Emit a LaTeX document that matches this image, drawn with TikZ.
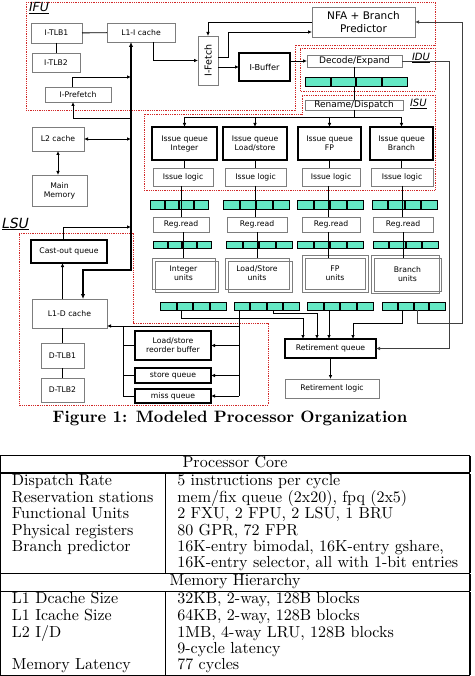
\documentclass[tikz,border=0pt]{standalone}
\usepackage{fontspec}
\newfontfamily\dv{DejaVu Sans}
\newfontfamily\cmten{lmroman10-regular.otf}[BoldFont=lmroman10-bold.otf]
\usetikzlibrary{calc,arrows.meta}
\definecolor{cellc}{RGB}{100,232,196}
\definecolor{redd}{RGB}{210,40,40}
\definecolor{gbord}{RGB}{125,125,125}
\newcommand\bx[7]{\node[#6, minimum width={(#4-#2)*1pt}, minimum height={(#5-#3)*1pt}] (#1) at ({(#2+#4)/2},{(#3+#5)/2}) {#7};}
\begin{document}
\begin{tikzpicture}[x=1pt,y=-1pt,
  every node/.style={inner sep=0pt, outer sep=0pt, font=\dv\fontsize{7.7}{9}\selectfont, align=center},
  gbox/.style={draw=gbord, line width=0.9pt},
  kbox/.style={draw=black, line width=1.6pt},
  ln/.style={draw=black, line width=0.9pt},
  arr/.style={ln, -{Latex[length=4pt,width=3.6pt]}},
  darr/.style={ln, {Latex[length=4pt,width=3.6pt]}-{Latex[length=4pt,width=3.6pt]}},
  bus/.style={draw=black, line width=1.8pt, {Latex[length=5pt,width=4.5pt]}-{Latex[length=5pt,width=4.5pt]}},
  region/.style={draw=redd, line width=0.8pt, densely dotted},
  regs/.style={draw=black, line width=1pt, fill=cellc,
    path picture={\foreach \k in {1,2,3}{\draw[line width=2pt] ($(path picture bounding box.south west)!\k/4!(path picture bounding box.south east)$) -- ($(path picture bounding box.north west)!\k/4!(path picture bounding box.north east)$);}}},
  lab/.style={font=\dv\itshape\fontsize{#1}{#1}\selectfont},
  f9/.style={font=\dv\fontsize{9}{10}\selectfont},
  f105/.style={font=\dv\fontsize{10.5}{12.5}\selectfont}
]
\useasboundingbox (0,0) rectangle (474,676);
\fill[white] (0,0) rectangle (474,676);

% regions
\draw[region] (26,2) -- (435,2) -- (435,45) -- (295,45) -- (295,110) -- (26,110) -- cycle;
\draw[region] (300,48) -- (435,48) -- (435,91) -- (300,91) -- cycle;
\draw[region] (302,95) -- (435,95) -- (435,190) -- (144,190) -- (144,114) -- (302,114) -- cycle;
\draw[region] (19,233) -- (133,233) -- (133,323) -- (268,323) -- (268,405) -- (19,405) -- cycle;
\node[lab=12.5, anchor=west] (lifu) at (29,8) {\underline{IFU}};
\node[lab=10, anchor=west] (lidu) at (412,58) {\underline{IDU}};
\node[lab=10, anchor=west] (lisu) at (410,104) {\underline{ISU}};
\node[lab=14, anchor=west] (llsu) at (2,224) {\underline{LSU}};

% IFU
\bx{itlb1}{31}{23}{82}{43}{gbox}{I-TLB1}
\bx{itlb2}{32}{53}{80}{72}{gbox}{I-TLB2}
\bx{l1i}{107}{23}{175}{42}{gbox}{L1-I cache}
\bx{ipre}{45}{87}{111}{102}{gbox}{I-Prefetch}
\bx{ifetch}{198}{36}{218}{85}{gbox,font=\dv\fontsize{9.5}{10}\selectfont}{\rotatebox{90}{I-Fetch}}
\bx{ibuf}{239}{53}{290}{81}{kbox,font=\dv\fontsize{8.2}{9}\selectfont}{I-Buffer}
\bx{nfa}{312}{7}{415}{37}{gbox,f105}{NFA + Branch\\Predictor}
% IDU
\bx{dec}{307}{55}{402}{67}{gbox,f9}{Decode/Expand}
\bx{decregs}{305}{78}{407}{87}{regs}{}
% ISU
\bx{ren}{305}{100}{403}{110}{gbox,f9}{Rename/Dispatch}
\bx{iq1}{152}{127}{217}{160}{kbox}{Issue queue\\Integer}
\bx{iq2}{223}{127}{287}{160}{kbox}{Issue queue\\Load/store}
\bx{iq3}{298}{127}{361}{160}{kbox}{Issue queue\\FP}
\bx{iq4}{370}{127}{433}{160}{kbox}{Issue queue\\Branch}
\bx{il1}{153}{168}{213}{186}{gbox}{Issue logic}
\bx{il2}{225}{168}{286}{186}{gbox}{Issue logic}
\bx{il3}{302}{168}{360}{186}{gbox}{Issue logic}
\bx{il4}{371}{168}{433}{186}{gbox}{Issue logic}
\bx{ra1}{150}{201}{208}{209}{regs}{}
\bx{ra2}{223}{201}{289}{209}{regs}{}
\bx{ra3}{297}{201}{363}{209}{regs}{}
\bx{ra4}{372}{201}{437}{209}{regs}{}
\bx{rr1}{153}{217}{209}{232}{gbox}{Reg.read}
\bx{rr2}{227}{217}{287}{232}{gbox}{Reg.read}
\bx{rr3}{302}{217}{360}{232}{gbox}{Reg.read}
\bx{rr4}{373}{217}{433}{232}{gbox}{Reg.read}
\bx{rb1}{153}{241}{211}{248}{regs}{}
\bx{rb2}{226}{241}{292}{248}{regs}{}
\bx{rb3}{297}{241}{363}{248}{regs}{}
\bx{rb4}{373}{241}{438}{248}{regs}{}
\bx{ub1}{155}{261}{218}{292}{gbox}{}
\bx{u1}{152}{258}{215}{289}{gbox}{Integer\\units}
\bx{ub2}{228}{261}{292}{292}{gbox}{}
\bx{u2}{225}{258}{289}{289}{gbox}{Load/Store\\units}
\bx{ub3}{302}{255}{368}{292}{gbox}{}
\bx{u3}{305}{258}{365}{289}{gbox}{FP\\units}
\bx{ub4}{371}{255}{439}{293}{gbox}{}
\bx{u4}{374}{258}{441}{291}{gbox}{Branch\\units}
\bx{rc1}{160}{302}{226}{310}{regs}{}
\bx{rc2}{234}{302}{299}{310}{regs}{}
\bx{rc3}{307}{302}{373}{310}{regs}{}
\bx{rc4}{382}{302}{445}{310}{regs}{}
% memory side
\bx{l2}{32}{127}{84}{151}{gbox}{L2 cache}
\bx{mem}{32}{175}{87}{206}{gbox}{Main\\Memory}
% LSU
\bx{cast}{31}{240}{107}{263}{kbox}{Cast-out queue}
\bx{l1d}{32}{299}{107}{328}{gbox}{L1-D cache}
\bx{dtlb1}{41}{343}{84}{368}{gbox}{D-TLB1}
\bx{dtlb2}{41}{378}{84}{402}{gbox}{D-TLB2}
\bx{lsrob}{135}{331}{211}{360}{kbox}{Load/store\\reorder buffer}
\bx{stq}{135}{368}{211}{383}{kbox}{store queue}
\bx{missq}{135}{389}{211}{403}{kbox}{miss queue}
% retirement
\bx{rq}{285}{339}{376}{358}{kbox}{Retirement queue}
\bx{rl}{285}{379}{379}{398}{gbox}{Retirement logic}

% coordinates
\coordinate (b1) at (131,270);
\coordinate (b2) at (83,270);
\coordinate (j1) at (131,77);
\coordinate (j2) at (131,118);
\coordinate (j3) at (131,139);
\coordinate (j4) at (131,227);
\coordinate (rbar) at (0,117);
\coordinate (xi) at (181,0);
\coordinate (xl) at (273,0);
\coordinate (xf) at (329,0);
\coordinate (xb) at (402,0);
\coordinate (xb2) at (417,0);
\coordinate (q1) at (303,318);
\coordinate (q2) at (317,313);
\coordinate (q4) at (353,323);
\coordinate (fb) at (462,323);
\coordinate (xd) at (449,0);
\coordinate (xs) at (239,0);
\coordinate (h1) at (239,326);
\coordinate (xq) at (123,0);

% IFU connections
\draw[ln] (itlb1) -- (l1i);
\draw[ln] (itlb1.south) -- (itlb1.south |- itlb2.north);
\draw[bus] (l1i.south -| b1) -- (b1) -- (b2) -- (b2 |- l1d.north);
\draw[arr] ([xshift=-6pt]ipre.north) |- (j1);
\draw[arr] (j2) -| ([xshift=-5pt]ipre.south);
\draw[darr] (l2) -- (j3);
\draw[darr] (l2.south) -- (l2.south |- mem.north);
\draw[arr] ([xshift=-6pt]cast.north) |- (j4);
\draw[arr] ([xshift=-7pt]l1d.north) -- ([xshift=-7pt]l1d.north |- cast.south);
\draw[ln] (dtlb1.north |- l1d.south) -- (dtlb1.north);
\draw[ln] (dtlb1) -- (dtlb2);
\draw[arr] ([xshift=12pt]l1i.south) |- (ifetch.west);
\draw[arr] (ifetch.east |- ibuf) -- (ibuf.west);
\draw[arr] (nfa.west) -| (ifetch.north);
\draw[arr] ([yshift=3.5pt]ifetch.east) -- ++(10,0) |- ([yshift=-10pt]nfa.west);
\draw[arr] (ibuf.east |- dec.west) -- (dec.west);
% IDU / ISU
\draw[ln] (dec.south) -- (dec.south |- decregs.north);
\draw[ln] (decregs.south -| dec.south) -- (ren.north -| dec.south);
\draw[ln] (ren.south) -- (ren.south |- rbar);
\draw[ln] (iq1.north |- rbar) -- (iq4.north |- rbar);
\foreach \n in {1,2,3,4}{
  \draw[arr] (iq\n.north |- rbar) -- (iq\n.north);
  \draw[ln] (iq\n.south) -- (iq\n.south |- il\n.north);
}
\draw[ln] (il1.south -| xi) -- (xi |- rr1.north);
\draw[ln] (il2.south) -- (il2.south |- rr2.north);
\draw[ln] ([xshift=-3pt]il3.south) -- ([xshift=-3pt]il3.south |- rr3.north);
\draw[ln] (il4.south) -- (il4.south |- rr4.north);
\draw[ln] ([xshift=2pt]rr1.south) -- ([xshift=2pt]rr1.south |- u1.north);
\draw[ln] (rr2.south) -- (rr2.south |- u2.north);
\draw[ln] ([xshift=-3pt]rr3.south) -- ([xshift=-3pt]rr3.south |- u3.north);
\draw[ln] (rr4.south) -- (rr4.south |- u4.north);
% to retirement
\draw[arr] (rc1.south -| xi) |- (q1) -- (q1 |- rq.north);
\draw[arr] (rc2.south -| xl) |- (q2) -- (q2 |- rq.north);
\draw[arr] (rc3.south -| xf) -- (xf |- rq.north);
\draw[arr] (rc4.south -| xb) |- (q4) -- (q4 |- rq.north);
\draw[arr, draw=black!75] (rc4.south -| xb2) |- (fb) |- (nfa.east);
\draw[arr, draw=black!75] (dec.east) -| (xd |- rq.east) -- (rq.east);
\draw[arr] (rq.south) -- (rq.south |- rl.north);
% LSU
\draw[ln] (rc2.south -| xs) -- (xs |- missq.east);
\draw[arr] (xs |- lsrob.east) -- (lsrob.east);
\draw[arr] (xs |- stq.east) -- (stq.east);
\draw[arr] (xs |- missq.east) -- (missq.east);
\draw[arr] (h1) -- (l1d.east |- h1);
\draw[ln] (xq |- h1) -- (xq |- missq.west);
\draw[ln] (xq |- lsrob.west) -- (lsrob.west);
\draw[ln] (xq |- stq.west) -- (stq.west);
\draw[ln] (xq |- missq.west) -- (missq.west);

% caption and table
\node[font=\cmten\bfseries\fontsize{16.5}{18}\selectfont] (cap) at (230,418) {Figure 1: Modeled Processor Organization};
\node[anchor=north west, font=\cmten\fontsize{16}{16.4}\selectfont] (tbl) at (0,454.5) {%
\setlength{\tabcolsep}{12pt}\setlength{\arrayrulewidth}{1.5pt}%
\begin{tabular}{|l|l|}\hline
\multicolumn{2}{|c|}{Processor Core}\\\hline
Dispatch Rate & 5 instructions per cycle\\
Reservation stations & mem/fix queue (2x20), fpq (2x5)\\
Functional Units & 2 FXU, 2 FPU, 2 LSU, 1 BRU\\
Physical registers & 80 GPR, 72 FPR\\
Branch predictor & 16K-entry bimodal, 16K-entry gshare,\\
 & 16K-entry selector, all with 1-bit entries\\\hline
\multicolumn{2}{|c|}{Memory Hierarchy}\\\hline
L1 Dcache Size & 32KB, 2-way, 128B blocks\\
L1 Icache Size & 64KB, 2-way, 128B blocks\\
L2 I/D & 1MB, 4-way LRU, 128B blocks\\
 & 9-cycle latency\\
Memory Latency & 77 cycles\\\hline
\end{tabular}};
\end{tikzpicture}
\end{document}
